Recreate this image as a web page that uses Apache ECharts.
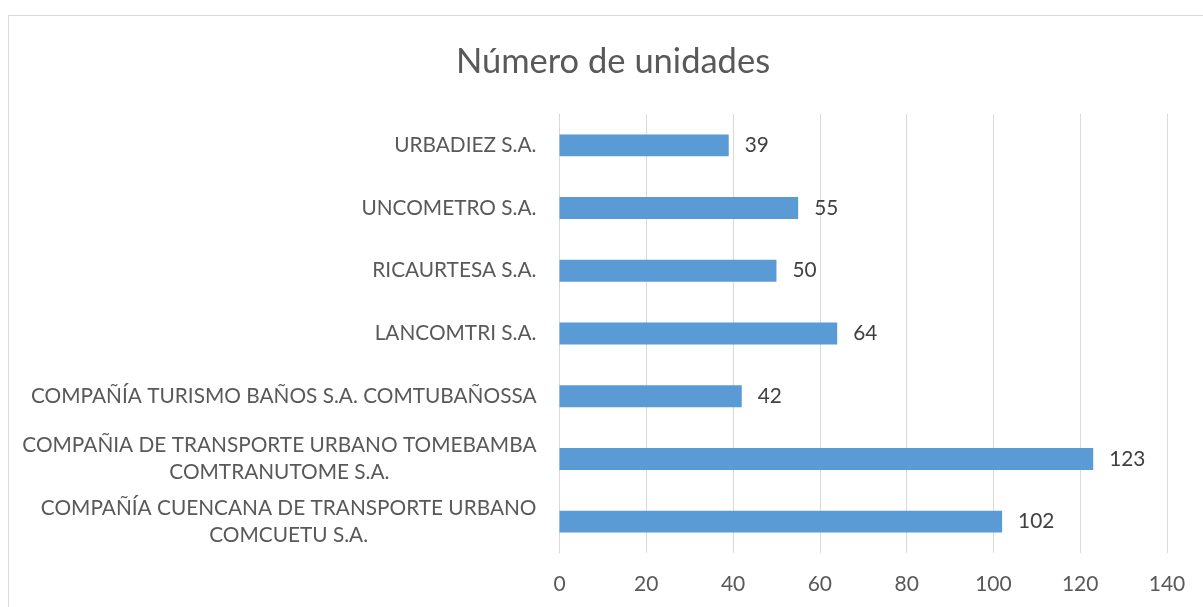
<!DOCTYPE html>
<html>
<head>
<meta charset="utf-8">
<script src="https://cdn.jsdelivr.net/npm/echarts@6/dist/echarts.min.js"></script>
<style>
  html, body { margin: 0; padding: 0; background: #fff; }
  #chart { width: 1203px; height: 607px; }
</style>
</head>
<body>
<div id="chart"></div>
<script>
// categories from bottom to top (as drawn on the y axis)
const categories = [
  'COMPAÑÍA CUENCANA DE TRANSPORTE URBANO\nCOMCUETU S.A.',
  'COMPAÑIA DE TRANSPORTE URBANO TOMEBAMBA\nCOMTRANUTOME S.A.',
  'COMPAÑÍA TURISMO BAÑOS S.A. COMTUBAÑOSSA',
  'LANCOMTRI S.A.',
  'RICAURTESA S.A.',
  'UNCOMETRO S.A.',
  'URBADIEZ S.A.'
]
const unidades = [102, 123, 42, 64, 50, 55, 39]
const xTicks = [0, 20, 40, 60, 80, 100, 120, 140]

const FONT = 'Lato'
const chart = echarts.init(document.getElementById('chart'))

const option = {
  backgroundColor: '#fff',
  animation: false,
  title: {
    text: 'Número de unidades',
    left: 608,
    top: 39,
    textAlign: 'center',
    textStyle: {
      fontFamily: FONT,
      fontSize: 34.5,
      fontWeight: 'normal',
      color: '#595959'
    }
  },
  graphic: [
    {
      type: 'rect',
      shape: { x: 8.5, y: 15.5, width: 1300, height: 700 },
      style: { fill: 'none', stroke: '#d9d9d9', lineWidth: 1 },
      silent: true
    }
  ],
  grid: {
    left: 559.5,
    right: 36,
    top: 114,
    bottom: 54,
    containLabel: false
  },
  xAxis: {
    type: 'value',
    min: xTicks[0],
    max: xTicks[xTicks.length - 1],
    interval: 20,
    axisLine: { show: false },
    axisTick: { show: false },
    splitLine: { lineStyle: { color: '#d9d9d9', width: 1 } },
    axisLabel: {
      margin: 21,
      fontFamily: FONT,
      fontSize: 21,
      color: '#595959'
    }
  },
  yAxis: {
    type: 'category',
    data: categories,
    axisLine: { show: true, lineStyle: { color: '#d9d9d9' } },
    axisTick: { show: false },
    axisLabel: {
      margin: 23,
      fontFamily: FONT,
      fontSize: 20.8,
      color: '#595959',
      lineHeight: 27,
      formatter: (value) => value.split('\n').map((s) => '{c|' + s + '}').join('\n'),
      rich: {
        c: {
          align: 'center',
          fontFamily: FONT,
          fontSize: 20.8,
          color: '#595959',
          lineHeight: 27
        }
      }
    }
  },
  series: [
    {
      type: 'bar',
      data: unidades,
      barCategoryGap: '65%',
      itemStyle: { color: '#5b9bd5' },
      label: {
        show: true,
        position: 'right',
        distance: 16,
        fontFamily: FONT,
        fontSize: 20.8,
        color: '#404040'
      }
    }
  ]
}

chart.setOption(option)
</script>
</body>
</html>
